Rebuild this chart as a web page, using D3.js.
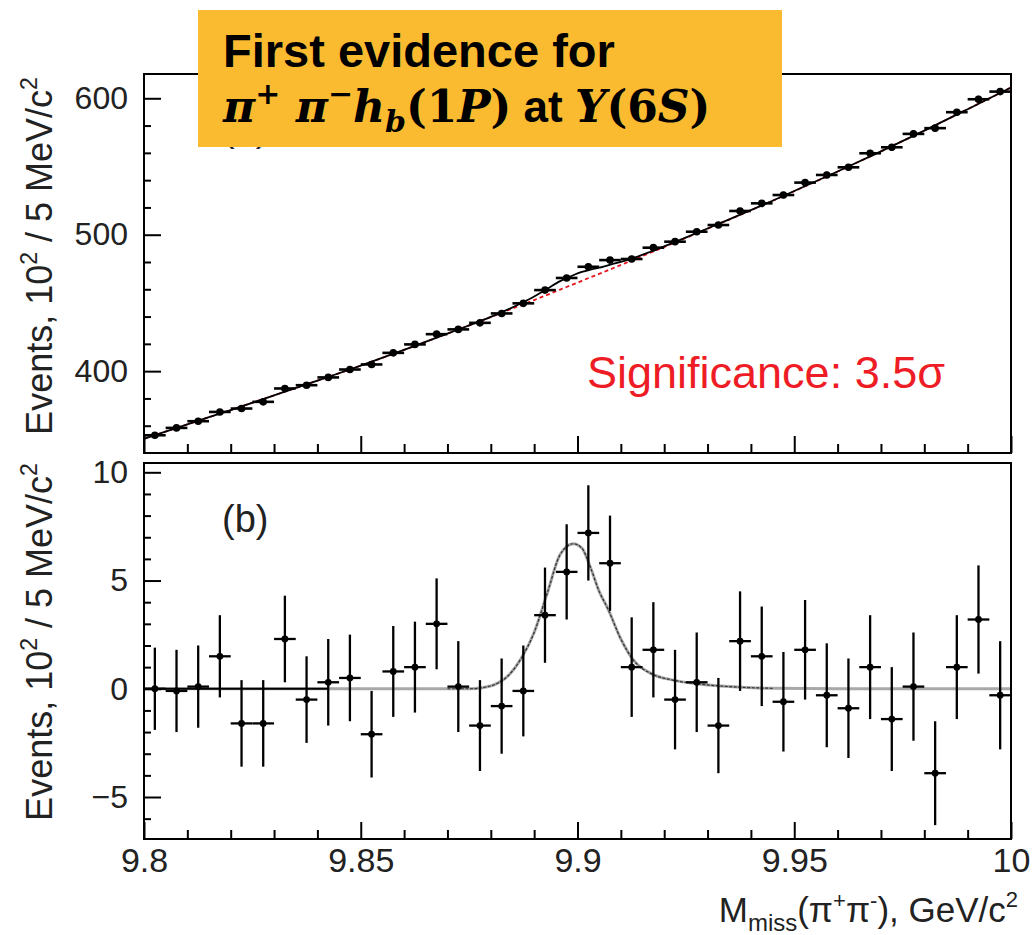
<!DOCTYPE html>
<html>
<head>
<meta charset="utf-8">
<style>
  body { margin: 0; background: #fff; }
  svg text { font-family: "Liberation Sans", Arial, sans-serif; }
  .tick text { fill: #222; }
</style>
</head>
<body>
<svg id="chart" width="1033" height="935"></svg>
<script src="https://cdn.jsdelivr.net/npm/d3@7/dist/d3.min.js"></script>
<script>
// bin centres, 5 MeV bins
var binCenter = [9.8025, 9.8075, 9.8125, 9.8175, 9.8225, 9.8275, 9.8325, 9.8375, 9.8425, 9.8475,
                 9.8525, 9.8575, 9.8625, 9.8675, 9.8725, 9.8775, 9.8825, 9.8875, 9.8925, 9.8975,
                 9.9025, 9.9075, 9.9125, 9.9175, 9.9225, 9.9275, 9.9325, 9.9375, 9.9425, 9.9475,
                 9.9525, 9.9575, 9.9625, 9.9675, 9.9725, 9.9775, 9.9825, 9.9875, 9.9925, 9.9975];

// (a) events per bin, 10^2
var topEvents = [353.0, 358.4, 363.3, 370.1, 372.6, 377.5, 387.3, 389.7, 395.4, 401.2,
                 404.9, 413.4, 419.6, 427.1, 430.6, 435.4, 442.3, 449.7, 459.4, 468.3,
                 476.5, 481.4, 482.2, 490.5, 494.9, 502.2, 507.1, 517.4, 523.0, 529.1,
                 538.2, 543.8, 549.4, 559.7, 564.1, 573.9, 578.1, 589.8, 599.3, 604.9];

// (b) background subtracted
var residual = [0.0, -0.1, 0.1, 1.5, -1.6, -1.6, 2.3, -0.5, 0.3, 0.5,
                -2.1, 0.8, 1.0, 3.0, 0.1, -1.7, -0.8, -0.1, 3.4, 5.4,
                7.2, 5.8, 1.0, 1.8, -0.5, 0.3, -1.7, 2.2, 1.5, -0.6,
                1.8, -0.3, -0.9, 1.0, -1.4, 0.1, -3.9, 1.0, 3.2, -0.3];

var errors = [1.9, 1.9, 1.9, 1.9, 2.0, 2.0, 2.0, 2.0, 2.0, 2.0,
              2.0, 2.1, 2.1, 2.1, 2.1, 2.1, 2.2, 2.1, 2.2, 2.2,
              2.2, 2.2, 2.3, 2.2, 2.3, 2.3, 2.2, 2.3, 2.3, 2.3,
              2.3, 2.4, 2.3, 2.4, 2.4, 2.5, 2.4, 2.4, 2.5, 2.5];

// fit curves
var fitMass = [9.80, 9.81, 9.82, 9.83, 9.84, 9.85, 9.86, 9.87, 9.875, 9.878,
               9.881, 9.884, 9.887, 9.890, 9.893, 9.896, 9.899, 9.901, 9.903, 9.905,
               9.907, 9.910, 9.913, 9.917, 9.922, 9.928, 9.935, 9.945, 9.96, 9.97,
               9.98, 9.99, 10.0];
var bgFit = [350.4, 361.0, 371.5, 382.2, 393.0, 404.0, 415.6, 427.5, 433.5, 437.2,
             440.9, 444.7, 448.4, 452.1, 455.9, 459.8, 463.6, 466.2, 468.8, 471.3,
             473.9, 477.8, 481.7, 487.0, 493.6, 501.7, 511.1, 524.9, 546.3, 561.1,
             576.3, 592.0, 607.9];
var sigFit = [0, 0, 0, 0, 0, 0, 0, 0, 0, 0.05,
              0.2, 0.6, 1.4, 2.6, 4.4, 6.2, 6.7, 6.5, 5.6, 4.5,
              3.7, 2.3, 1.3, 0.7, 0.4, 0.22, 0.1, 0.02, 0, 0,
              0, 0, 0];
var zeroLineRange = [9.80, 9.8425];

var xMajor = [9.8, 9.85, 9.9, 9.95, 10];
var xMinor = [9.81, 9.82, 9.83, 9.84, 9.86, 9.87, 9.88, 9.89, 9.91, 9.92, 9.93, 9.94, 9.96, 9.97, 9.98, 9.99];
var yTopMajor = [400, 500, 600];
var yTopMinor = [360, 380, 420, 440, 460, 480, 520, 540, 560, 580];
var yBotMajor = [-5, 0, 5, 10];
var yBotMinor = [-6, -4, -3, -2, -1, 1, 2, 3, 4, 6, 7, 8, 9];

var svg = d3.select("#chart");

var left = 144, right = 1011;
var topPanel = {top: 74, bottom: 453};
var botPanel = {top: 463, bottom: 839};

var x = d3.scaleLinear().domain([9.8, 10]).range([left, right]);
var yTop = d3.scaleLinear().domain([340, 617.8]).range([topPanel.bottom, topPanel.top]);
var yBot = d3.scaleLinear().domain([-6.94, 10.43]).range([botPanel.bottom, botPanel.top]);

var binHalf = (x(9.805) - x(9.8)) / 2;

function drawAxes(panel, yScale, yMaj, yMin, showX) {
  // minor y ticks
  svg.append("g")
      .attr("transform", "translate(" + left + ",0)")
      .call(d3.axisLeft(yScale).tickValues(yMin).tickSize(-7).tickSizeOuter(0).tickFormat(""))
      .call(function(g) { g.select(".domain").remove(); })
      .selectAll("line").attr("stroke", "#000").attr("stroke-width", 2);
  // major y ticks
  var gy = svg.append("g")
      .attr("transform", "translate(" + left + ",0)")
      .call(d3.axisLeft(yScale).tickValues(yMaj).tickSize(-17).tickSizeOuter(0).tickPadding(16));
  gy.select(".domain").remove();
  gy.selectAll("line").attr("stroke", "#000").attr("stroke-width", 2);
  gy.selectAll("text").style("font-size", "32px").style("font-family", "'Liberation Sans', Arial, sans-serif");

  // x ticks
  svg.append("g")
      .attr("transform", "translate(0," + panel.bottom + ")")
      .call(d3.axisBottom(x).tickValues(xMinor).tickSize(-9).tickSizeOuter(0).tickFormat(""))
      .call(function(g) { g.select(".domain").remove(); })
      .selectAll("line").attr("stroke", "#000").attr("stroke-width", 2);
  var gx = svg.append("g")
      .attr("transform", "translate(0," + panel.bottom + ")")
      .call(d3.axisBottom(x).tickValues(xMajor).tickSize(-17).tickSizeOuter(0).tickPadding(9)
            .tickFormat(function(d) { return showX ? String(+d.toFixed(2)) : ""; }));
  gx.select(".domain").remove();
  gx.selectAll("line").attr("stroke", "#000").attr("stroke-width", 2);
  gx.selectAll("text").style("font-size", "34px").style("font-family", "'Liberation Sans', Arial, sans-serif");

  // frame
  svg.append("rect")
      .attr("x", left).attr("y", panel.top)
      .attr("width", right - left).attr("height", panel.bottom - panel.top)
      .attr("fill", "none").attr("stroke", "#000").attr("stroke-width", 2);
}

function drawPoints(values, yScale, w, r) {
  var g = svg.append("g");
  var pts = g.selectAll("g.pt").data(binCenter).enter().append("g").attr("class", "pt");
  pts.append("line")
      .attr("x1", function(d) { return x(d) - binHalf; })
      .attr("x2", function(d) { return x(d) + binHalf; })
      .attr("y1", function(d, i) { return yScale(values[i]); })
      .attr("y2", function(d, i) { return yScale(values[i]); })
      .attr("stroke", "#000").attr("stroke-width", w);
  pts.append("line")
      .attr("x1", function(d) { return x(d); })
      .attr("x2", function(d) { return x(d); })
      .attr("y1", function(d, i) { return yScale(values[i] - errors[i]); })
      .attr("y2", function(d, i) { return yScale(values[i] + errors[i]); })
      .attr("stroke", "#000").attr("stroke-width", w);
  pts.append("circle")
      .attr("cx", function(d) { return x(d); })
      .attr("cy", function(d, i) { return yScale(values[i]); })
      .attr("r", r)
      .attr("fill", "#000");
}

// ---- top panel (a)
var fitTotal = fitMass.map(function(m, i) { return bgFit[i] + sigFit[i]; });

var lineTop = d3.line()
    .x(function(d) { return x(d[0]); })
    .y(function(d) { return yTop(d[1]); })
    .curve(d3.curveMonotoneX);

svg.append("path")
    .datum(fitMass.map(function(m, i) { return [m, bgFit[i]]; }))
    .attr("fill", "none").attr("stroke", "#e8141e").attr("stroke-width", 1.8)
    .attr("stroke-dasharray", "4,3")
    .attr("d", lineTop);

svg.append("path")
    .datum(fitMass.map(function(m, i) { return [m, fitTotal[i]]; }))
    .attr("fill", "none").attr("stroke", "#000").attr("stroke-width", 1.8)
    .attr("d", lineTop);

drawPoints(topEvents, yTop, 2.6, 3.8);
drawAxes(topPanel, yTop, yTopMajor, yTopMinor, false);

svg.append("text")
    .attr("x", 587).attr("y", 388)
    .attr("fill", "#ee1c25")
    .style("font-size", "45px")
    .text("Significance: 3.5\u03c3");

// "(a)" label, mostly hidden under the title box
svg.append("text")
    .attr("x", 222).attr("y", 141)
    .attr("fill", "#223")
    .style("font-size", "38px")
    .text("(a)");

// ---- bottom panel (b)
var lineBot = d3.line()
    .x(function(d) { return x(d[0]); })
    .y(function(d) { return yBot(d[1]); })
    .curve(d3.curveMonotoneX);

svg.append("path")
    .datum(fitMass.map(function(m, i) { return [m, sigFit[i]]; }))
    .attr("fill", "none").attr("stroke", "#a8a8a8").attr("stroke-width", 3)
    .attr("d", lineBot);
svg.append("path")
    .datum(fitMass.map(function(m, i) { return [m, sigFit[i]]; })
           .filter(function(d) { return d[0] >= 9.87 && d[0] <= 9.945; }))
    .attr("fill", "none").attr("stroke", "#333").attr("stroke-width", 1.2)
    .attr("stroke-dasharray", "3,1.5")
    .attr("d", lineBot);
svg.append("path")
    .datum(zeroLineRange.map(function(m) { return [m, 0]; }))
    .attr("fill", "none").attr("stroke", "#000").attr("stroke-width", 2)
    .attr("d", lineBot);

drawPoints(residual, yBot, 2.3, 3.4);
drawAxes(botPanel, yBot, yBotMajor, yBotMinor, true);

svg.append("text")
    .attr("x", 222).attr("y", 532)
    .attr("fill", "#222")
    .style("font-size", "38px")
    .text("(b)");

// axis titles
function yTitle(cy) {
  var t = svg.append("text")
      .attr("transform", "translate(52," + cy + ") rotate(-90)")
      .attr("text-anchor", "middle")
      .attr("fill", "#222")
      .style("font-size", "36px");
  t.append("tspan").text("Events, 10");
  t.append("tspan").attr("dy", -15).style("font-size", "23px").text("2");
  t.append("tspan").attr("dy", 15).text(" / 5 MeV/c");
  t.append("tspan").attr("dy", -15).style("font-size", "23px").text("2");
}
yTitle(256);
yTitle(642);

var xt = svg.append("text")
    .attr("x", 1018).attr("y", 922)
    .attr("text-anchor", "end")
    .attr("fill", "#222")
    .style("font-size", "35px");
xt.append("tspan").text("M");
xt.append("tspan").attr("dy", 9).style("font-size", "24px").text("miss");
xt.append("tspan").attr("dy", -9).text("(\u03c0");
xt.append("tspan").attr("dy", -14).style("font-size", "22px").text("+");
xt.append("tspan").attr("dy", 14).text("\u03c0");
xt.append("tspan").attr("dy", -14).style("font-size", "22px").text("-");
xt.append("tspan").attr("dy", 14).text("), GeV/c");
xt.append("tspan").attr("dy", -15).style("font-size", "22px").text("2");

// ---- title box
svg.append("rect")
    .attr("x", 198).attr("y", 10)
    .attr("width", 584).attr("height", 137)
    .attr("fill", "#fbbb31");

svg.append("text")
    .attr("x", 223).attr("y", 67)
    .attr("fill", "#000")
    .style("font-size", "47px")
    .style("font-weight", "bold")
    .text("First evidence for");

var serif = "'DejaVu Serif', 'Liberation Serif', serif";
var t2 = svg.append("text")
    .attr("x", 223).attr("y", 122)
    .attr("fill", "#000")
    .style("font-size", "44px");
function part(txt, opts) {
  var s = t2.append("tspan").text(txt)
      .style("font-family", opts.sans ? "'Liberation Sans', Arial, sans-serif" : serif)
      .style("font-weight", "bold")
      .style("font-style", opts.italic ? "italic" : "normal");
  if (opts.dy) s.attr("dy", opts.dy);
  if (opts.size) s.style("font-size", opts.size);
  return s;
}
part("\u03c0", {italic: true});
part("+", {dy: -18, size: "30px"});
part(" \u03c0", {dy: 18, italic: true});
part("\u2212", {dy: -18, size: "30px"});
part("h", {dy: 18, italic: true});
part("b", {dy: 10, size: "30px", italic: true});
part("(1", {dy: -10});
part("P", {italic: true});
part(")", {});
part(" at ", {sans: true});
part("\u03a5", {italic: true});
part("(6", {});
part("S", {italic: true});
part(")", {});
</script>
</body>
</html>
